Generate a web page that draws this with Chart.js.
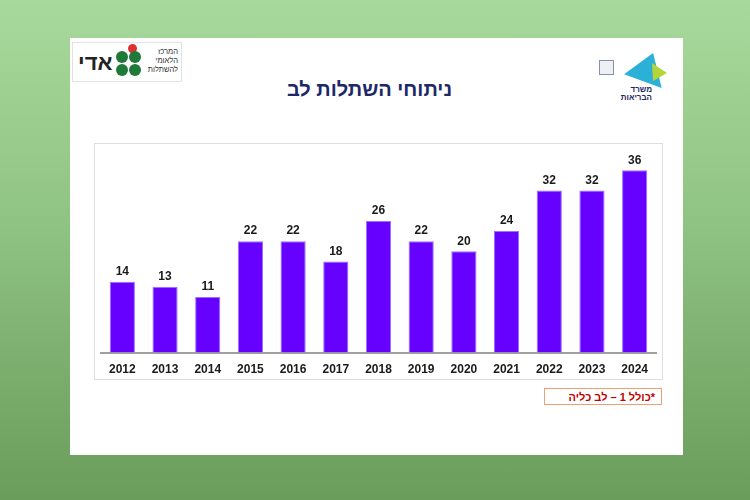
<!DOCTYPE html>
<html lang="he">
<head>
<meta charset="utf-8">
<script src="https://cdn.jsdelivr.net/npm/chart.js@4/dist/chart.umd.min.js"></script>
<style>
  html, body { margin: 0; padding: 0; }
  body {
    width: 750px; height: 500px; overflow: hidden; position: relative;
    background: linear-gradient(to bottom, #a8d99c 0%, #8fc383 45%, #6a9c5b 100%);
    font-family: "Liberation Sans", Arial, sans-serif;
  }
  #slide { position: absolute; left: 70px; top: 38px; width: 613px; height: 417px; background: #fff; }
  #title {
    position: absolute; left: 0; top: 40px; width: 599px; text-align: center;
    direction: rtl; font-size: 20px; font-weight: bold; color: #1c2868;
  }
  #chartBox {
    position: absolute; left: 24px; top: 105px; width: 567px; height: 235px;
    border: 1px solid #dedede;
  }
  #chartBox canvas { position: absolute; left: 0; top: 0; }
  #note {
    position: absolute; left: 474px; top: 350px; width: 118px; height: 17px;
    border: 1px solid #f0a070; direction: rtl; text-align: right;
    font-size: 11px; font-weight: bold; color: #c00000; line-height: 17px;
    box-sizing: border-box; padding-right: 6px;
  }
  /* left logo */
  #logoL { position: absolute; left: 2px; top: 4px; width: 108px; height: 38px; border: 1px solid #e2e2e2; }
  #logoL .name { position: absolute; left: 5px; top: 7px; font-size: 22px; font-weight: bold; color: #222; direction: rtl; }
  #logoL .leaf { position: absolute; width: 12px; height: 12px; border-radius: 50%; background: #1f7a3a; }
  #logoL .heart { position: absolute; left: 55px; top: 1px; width: 9px; height: 9px; border-radius: 50% 50% 50% 0; background: #e03030; transform: rotate(-45deg); }
  #logoL .txt { position: absolute; left: 73px; top: 4px; font-size: 7.5px; line-height: 9px; color: #333; direction: rtl; text-align: right; width: 32px; }
  /* right logo */
  #logoR { position: absolute; left: 520px; top: 10px; width: 90px; height: 55px; }
  #logoR .emb { position: absolute; left: 9px; top: 12px; width: 13px; height: 13px; border: 1px solid #8890a8; background: #eef0f6; }
  #logoR .tri1 { position: absolute; left: 38px; top: 4px; width: 0; height: 0; border-left: 20px solid transparent; border-right: 20px solid transparent; border-bottom: 30px solid #2bb0d8; transform: rotate(20deg); }
  #logoR .tri2 { position: absolute; left: 58px; top: 14px; width: 0; height: 0; border-left: 8px solid transparent; border-right: 8px solid transparent; border-bottom: 16px solid #b4d43a; transform: rotate(-30deg); }
  #logoR .txt { position: absolute; left: 26px; top: 38px; font-size: 8px; line-height: 8px; font-weight: bold; color: #1c2868; direction: rtl; text-align: right; width: 36px; }
</style>
</head>
<body>
<div id="slide">
  <div id="logoL">
    <div class="name">אדי</div>
    <div class="heart"></div>
    <div class="leaf" style="left:43px;top:8px"></div>
    <div class="leaf" style="left:56px;top:8px"></div>
    <div class="leaf" style="left:43px;top:21px"></div>
    <div class="leaf" style="left:56px;top:21px"></div>
    <div class="txt">המרכז הלאומי להשתלות</div>
  </div>
  <div id="logoR">
    <div class="emb"></div>
    <div class="tri1"></div>
    <div class="tri2"></div>
    <div class="txt">משרד הבריאות</div>
  </div>
  <div id="title">ניתוחי השתלות לב</div>
  <div id="chartBox"><canvas id="heartChart" width="567" height="235"></canvas></div>
  <div id="note">*כולל 1 – לב כליה</div>
</div>
<script>
const years = ['2012', '2013', '2014', '2015', '2016', '2017', '2018', '2019', '2020', '2021', '2022', '2023', '2024'];
const transplants = [14, 13, 11, 22, 22, 18, 26, 22, 20, 24, 32, 32, 36];

// ערכים מעל העמודות
const valueLabels = {
    id: 'valueLabels',
    afterDatasetsDraw(chart) {
        const { ctx } = chart;
        const meta = chart.getDatasetMeta(0);
        ctx.save();
        ctx.font = 'bold 12px "Liberation Sans", Arial, sans-serif';
        ctx.fillStyle = '#1a1a1a';
        ctx.textAlign = 'center';
        ctx.textBaseline = 'bottom';
        meta.data.forEach((bar, i) => {
            ctx.fillText(chart.data.datasets[0].data[i], bar.x, bar.y - 4);
        });
        ctx.restore();
    }
};

new Chart(document.getElementById('heartChart'), {
    type: 'bar',
    data: {
        labels: years,
        datasets: [{
            data: transplants,
            backgroundColor: '#6600ff',
            borderColor: '#9b70ff',
            borderWidth: 1,
            categoryPercentage: 1,
            barPercentage: 0.59
        }]
    },
    options: {
        responsive: false,
        animation: false,
        layout: { padding: { left: 6, right: 6, top: 6, bottom: 0 } },
        scales: {
            x: {
                grid: { display: false },
                border: { display: true, color: '#a0a0a0', width: 2 },
                ticks: {
                    color: '#1a1a1a',
                    padding: 2,
                    font: { family: '"Liberation Sans", Arial, sans-serif', size: 12, weight: 'bold' }
                }
            },
            y: { display: false, min: 0, max: 40 }
        },
        plugins: {
            legend: { display: false },
            tooltip: { enabled: false }
        }
    },
    plugins: [valueLabels]
});
</script>
</body>
</html>
